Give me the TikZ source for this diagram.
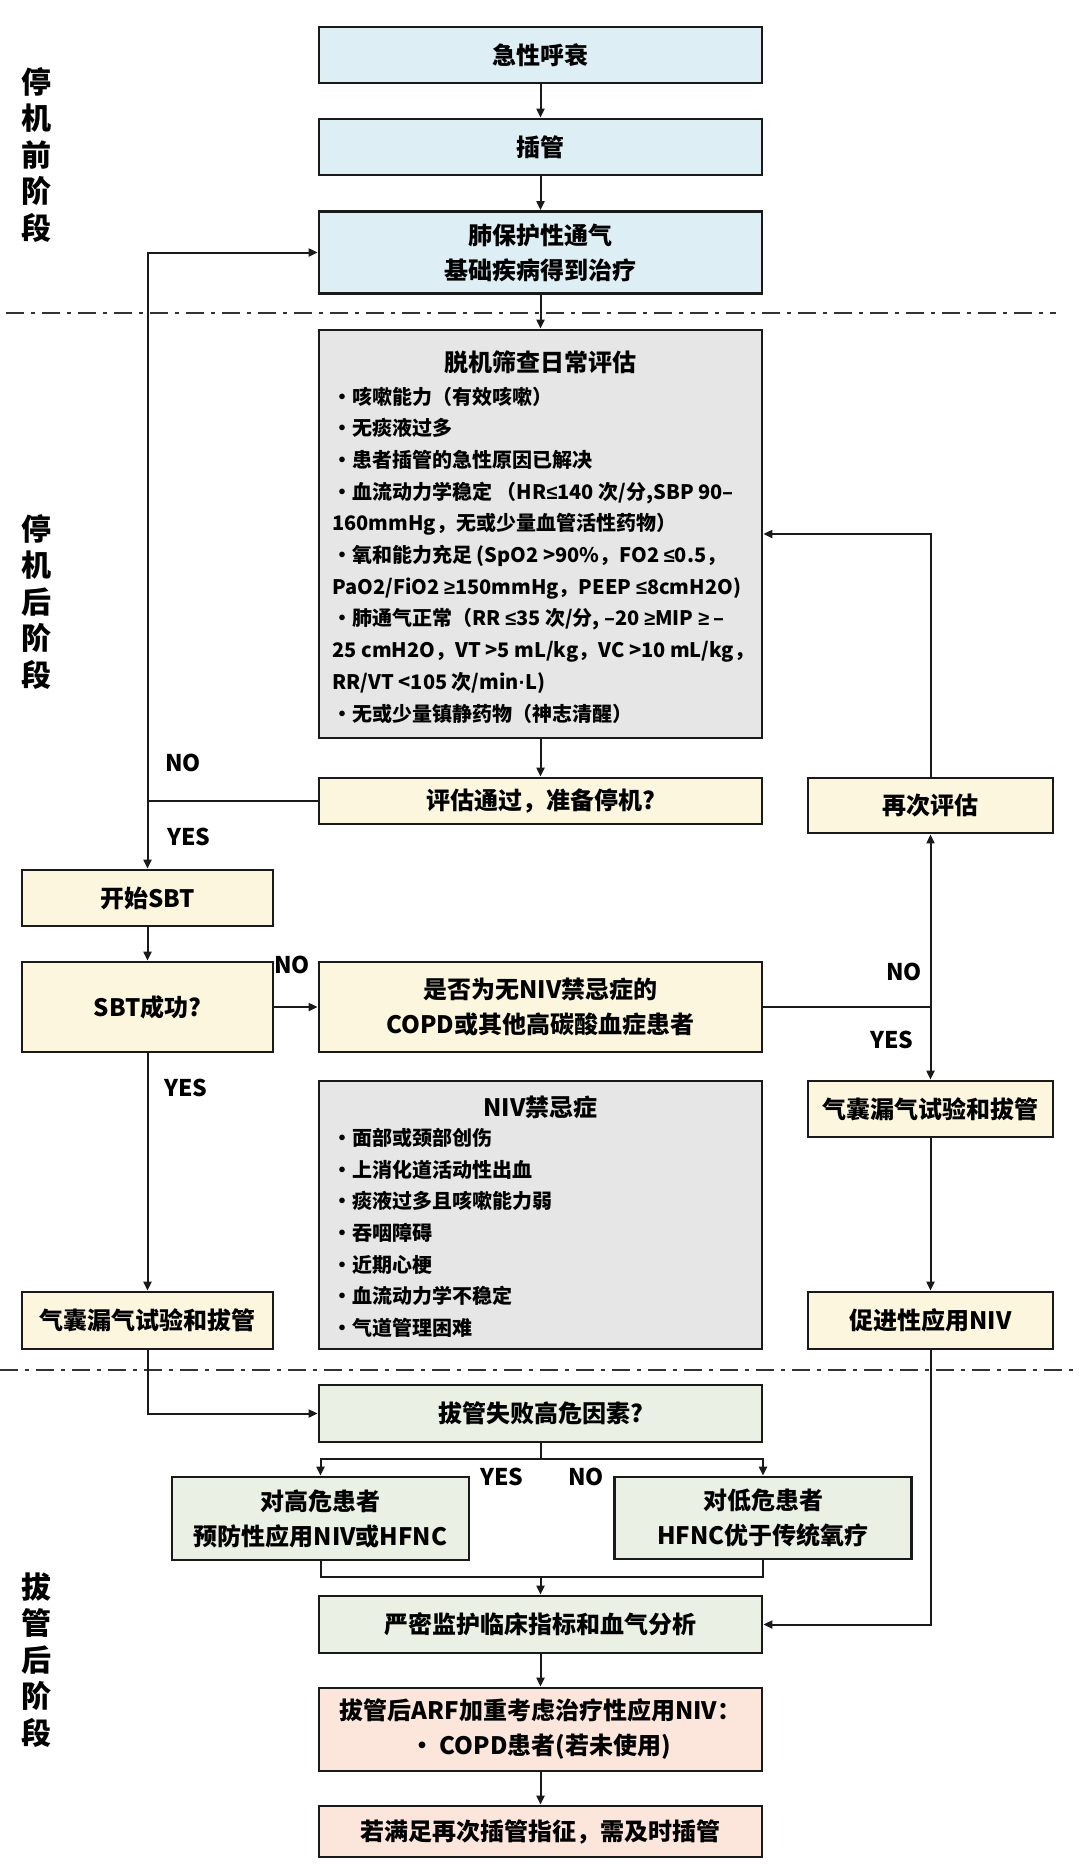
\documentclass[tikz,border=0pt]{standalone}
\usepackage{fontspec}
\setmainfont{Noto Sans CJK SC}
\newfontfamily\symf{Liberation Sans}
\usepackage{xcolor}
\usepackage{tikz}
\usetikzlibrary{arrows.meta}

\definecolor{fillblue}{HTML}{DDEEF4}
\definecolor{fillyellow}{HTML}{FCF6DE}
\definecolor{fillgray}{HTML}{E6E6E6}
\definecolor{fillgreen}{HTML}{EBF0E4}
\definecolor{fillpink}{HTML}{FCE6DC}
\definecolor{edge}{HTML}{1A1A1A}

\newcommand{\bul}{\makebox[10pt][l]{•}}
\newcommand{\lesym}{{\symf ≤}}
\newcommand{\gesym}{{\symf ≥}}
\newcommand{\dotsym}{{\symf ·}}

\tikzset{
  box/.style={draw=edge, line width=1.4pt, inner sep=0pt, align=center,
    font=\bfseries\fontsize{12}{17.5}\selectfont},
  mainbox/.style={box, minimum width=221.5pt},
  sidebox/.style={box, minimum width=125.5pt},
  rightbox/.style={box, minimum width=122.5pt},
  halfbox/.style={box, minimum width=148.5pt},
  listtext/.style={inner sep=0pt, align=left, anchor=west,
    font=\bfseries\fontsize{10}{15.85}\selectfont},
  listtitle/.style={inner sep=0pt, font=\bfseries\fontsize{12}{16}\selectfont},
  yn/.style={inner sep=0pt, font=\bfseries\fontsize{11.5}{14}\selectfont},
  phase/.style={inner sep=0pt, align=center, font=\bfseries\fontsize{15}{18.25}\selectfont},
  sep/.style={draw=black!80, line width=1pt, dash pattern=on 9pt off 3.5pt on 2pt off 3.5pt},
  line/.style={draw=edge, line width=1pt},
  arr/.style={line, -{Triangle[length=4.5pt,width=4pt]}}
}

\begin{document}
\begin{tikzpicture}[x=0.5pt,y=0.5pt,yscale=-1,xscale=1]
\useasboundingbox (0,0) rectangle (1080,1869);

% phase labels
\node[phase] (ph1) at (36,155) {停\\机\\前\\阶\\段};
\node[phase] (ph2) at (36,602) {停\\机\\后\\阶\\段};
\node[phase] (ph3) at (36,1660) {拔\\管\\后\\阶\\段};

\draw[sep] (6,313) -- (1056,313);
\draw[sep] (0,1370) -- (1080,1370);

% before weaning
\node[mainbox, fill=fillblue, minimum height=28pt] (arf0) at (540.5,55) {急性呼衰};
\node[mainbox, fill=fillblue, minimum height=28pt] (intub) at (540.5,147) {插管};
\node[mainbox, fill=fillblue, minimum height=41pt] (protect) at (540.5,252.5) {肺保护性通气\\基础疾病得到治疗};

% screening
\node[mainbox, fill=fillgray, minimum height=204pt] (screen) at (540.5,534) {};
\node[listtitle] (screent) at (540.5,362) {脱机筛查日常评估};
\node[listtext] (screenl) at (332,555) {\bul 咳嗽能力（有效咳嗽）\\
\bul 无痰液过多\\
\bul 患者插管的急性原因已解决\\
\bul 血流动力学稳定 （HR\lesym140 次/分,SBP 90–\\
160mmHg，无或少量血管活性药物）\\
\bul 氧和能力充足 (SpO2 >90\%，FO2 \lesym0.5，\\
PaO2/FiO2 \gesym150mmHg，PEEP \lesym8cmH2O)\\
\bul 肺通气正常（RR \lesym35 次/分, –20 \gesym MIP \gesym\ –\\
25 cmH2O，VT >5 mL/kg，VC >10 mL/kg，\\
RR/VT <105 次/min\dotsym L)\\
\bul 无或少量镇静药物（神志清醒）};

\node[mainbox, fill=fillyellow, minimum height=23pt] (ready) at (540.5,801) {评估通过，准备停机?};
\node[rightbox, fill=fillyellow, minimum height=27.5pt] (again) at (930.5,805.5) {再次评估};
\node[sidebox, fill=fillyellow, minimum height=28pt] (sbt) at (147.5,898) {开始SBT};
\node[sidebox, fill=fillyellow, minimum height=45pt] (sbtok) at (147.5,1007) {SBT成功?};
\node[mainbox, fill=fillyellow, minimum height=45pt] (copd) at (540.5,1007) {是否为无NIV禁忌症的\\COPD或其他高碳酸血症患者};
\node[rightbox, fill=fillyellow, minimum height=28pt] (leakr) at (930.5,1109) {气囊漏气试验和拔管};
\node[rightbox, fill=fillyellow, minimum height=28.5pt] (facil) at (930.5,1320.5) {促进性应用NIV};
\node[sidebox, fill=fillyellow, minimum height=28.5pt] (leakl) at (147.5,1320.5) {气囊漏气试验和拔管};

\node[mainbox, fill=fillgray, minimum height=134pt] (contra) at (540.5,1215) {};
\node[listtitle] (contrat) at (540.5,1107) {NIV禁忌症};
\node[listtext] (contral) at (332,1233) {\bul 面部或颈部创伤\\
\bul 上消化道活动性出血\\
\bul 痰液过多且咳嗽能力弱\\
\bul 吞咽障碍\\
\bul 近期心梗\\
\bul 血流动力学不稳定\\
\bul 气道管理困难};

% after extubation
\node[mainbox, fill=fillgreen, minimum height=28.5pt] (risk) at (540.5,1413.5) {拔管失败高危因素?};
\node[halfbox, fill=fillgreen, minimum height=41.5pt] (high) at (320.5,1518.5) {对高危患者\\预防性应用NIV或HFNC};
\node[halfbox, fill=fillgreen, minimum height=41pt] (low) at (763,1518) {对低危患者\\HFNC优于传统氧疗};
\node[mainbox, fill=fillgreen, minimum height=28.5pt] (watch) at (540.5,1624.5) {严密监护临床指标和血气分析};
\node[mainbox, fill=fillpink, minimum height=41.5pt] (arfniv) at (540.5,1729.5) {拔管后ARF加重考虑治疗性应用NIV：\\• COPD患者(若未使用)};
\node[mainbox, fill=fillpink, minimum height=25.5pt] (reint) at (540.5,1831.5) {若满足再次插管指征，需及时插管};

% labels
\node[yn] (no1) at (183,763) {NO};
\node[yn] (yes1) at (189,837) {YES};
\node[yn] (no2) at (292,965) {NO};
\node[yn] (yes2) at (186,1088) {YES};
\node[yn] (no3) at (904,972) {NO};
\node[yn] (yes3) at (892,1040) {YES};
\node[yn] (yes4) at (502,1477) {YES};
\node[yn] (no4) at (586,1477) {NO};

% connectors
\draw[arr] (arf0) -- (intub);
\draw[arr] (intub) -- (protect);
\draw[arr] (protect) -- (screen);
\draw[arr] (screen) -- (ready);

\coordinate (jl) at (ready.west -| sbt.north);
\draw[line] (ready.west) -- (jl);
\draw[arr] (jl) |- (protect.west);
\draw[arr] (jl) -- (sbt.north);

\draw[arr] (sbt) -- (sbtok);
\draw[arr] (sbtok) -- (copd);
\draw[arr] (sbtok) -- (leakl);

\coordinate (jr) at (copd.east -| again.south);
\draw[line] (copd.east) -- (jr);
\draw[arr] (jr) -- (again.south);
\draw[arr] (jr) -- (leakr.north);
\draw[arr] (again.north) |- (screen.east);
\draw[arr] (leakr) -- (facil);

\draw[arr] (leakl.south) |- (risk.west);
\draw[arr] (facil.south) |- (watch.east);

\coordinate (jb) at (540.5,1459);
\draw[line] (risk.south) -- (jb);
\draw[arr] (jb) -| (high.north);
\draw[arr] (jb) -| (low.north);

\coordinate (jm) at (540.5,1577);
\draw[line] (high.south) |- (jm) -| (low.south);
\draw[arr] (jm) -- (watch.north);

\draw[arr] (watch) -- (arfniv);
\draw[arr] (arfniv) -- (reint);

\end{tikzpicture}
\end{document}
